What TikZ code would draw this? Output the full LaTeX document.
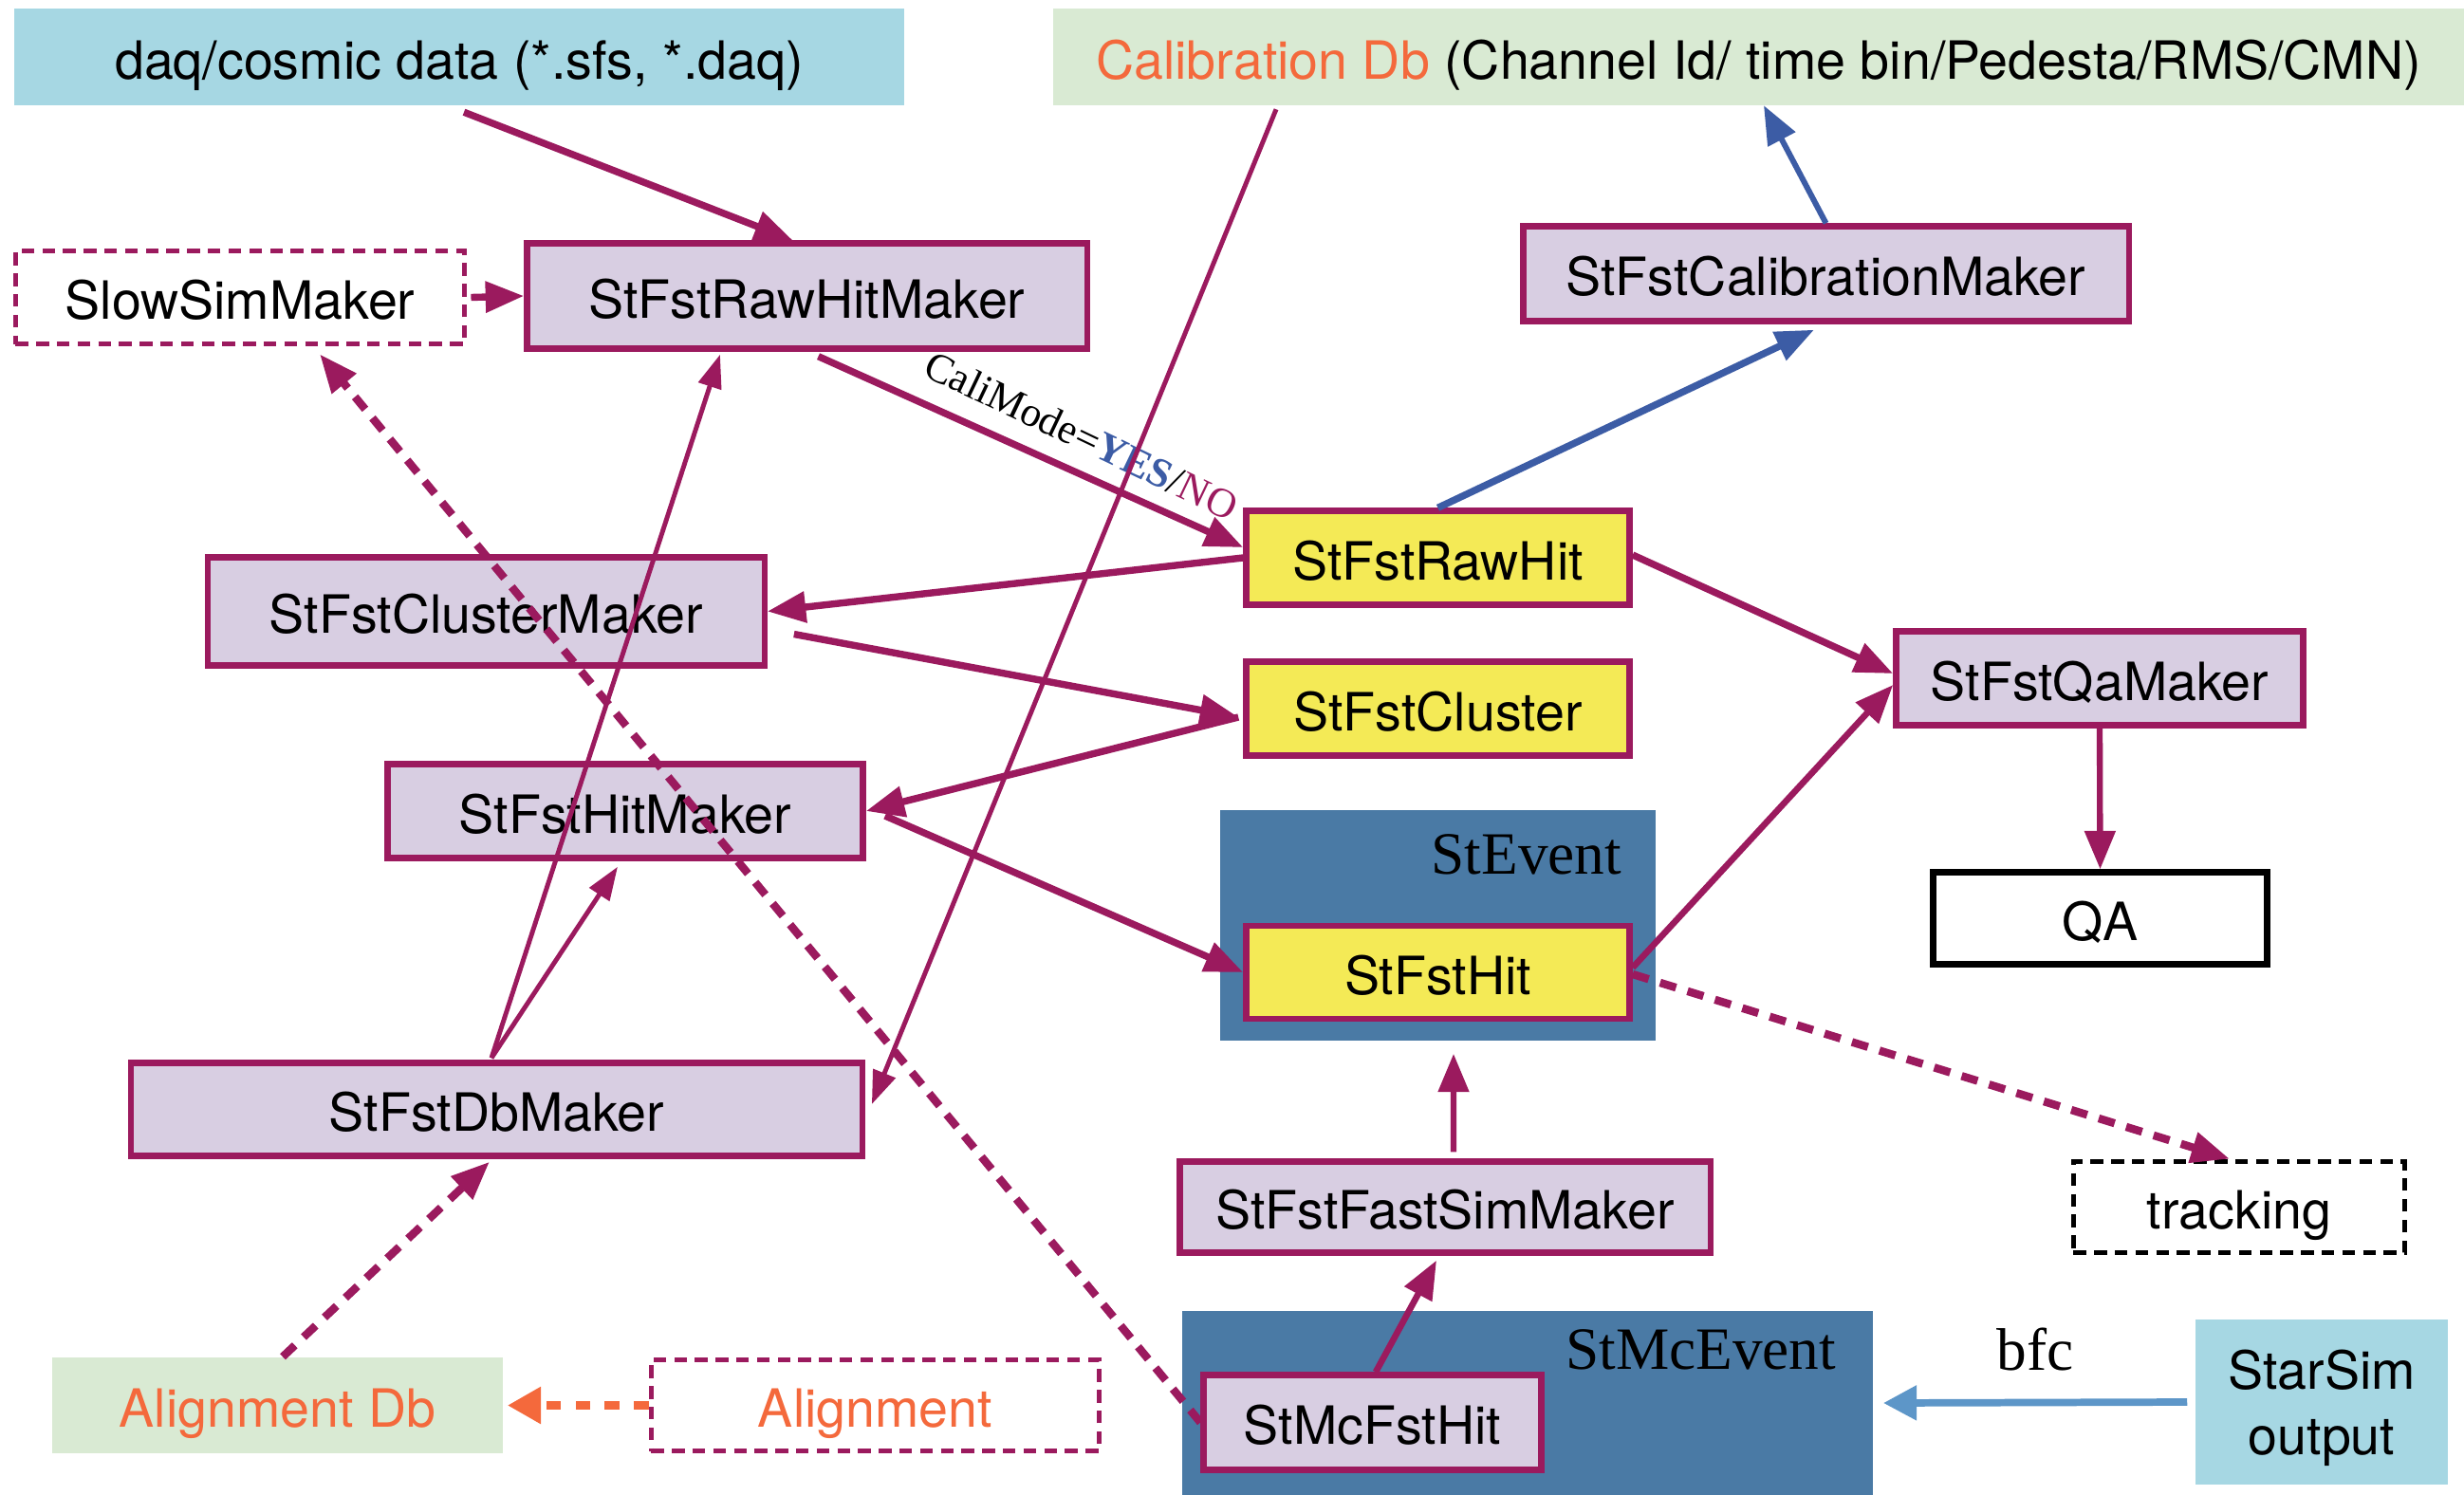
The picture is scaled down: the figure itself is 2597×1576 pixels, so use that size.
\documentclass[tikz,border=0pt]{standalone}
\usepackage{fontspec}
\setmainfont{TeX Gyre Heros}
\newfontfamily\labelserif{Liberation Serif}
\usetikzlibrary{arrows.meta}

\definecolor{mkpurple}{RGB}{155,26,94}
\definecolor{mklav}{RGB}{216,206,226}
\definecolor{hityellow}{RGB}{244,234,86}
\definecolor{evblue}{RGB}{74,122,165}
\definecolor{srcblue}{RGB}{166,215,227}
\definecolor{dbgreen}{RGB}{217,234,211}
\definecolor{dborange}{RGB}{244,105,60}
\definecolor{calblue}{RGB}{60,92,165}
\definecolor{simblue}{RGB}{93,150,200}

\begin{document}
\begin{tikzpicture}[x=0.01cm, y=-0.01cm,
  plainbox/.style={rectangle, inner sep=0pt, align=center,
    font=\fontsize{15.8pt}{19.6pt}\selectfont},
  box/.style={plainbox, text height=13.2pt, text depth=0pt},
  maker/.style={box, draw=mkpurple, line width=1.8pt, fill=mklav},
  hitbox/.style={box, draw=mkpurple, line width=1.8pt, fill=hityellow},
  srcbox/.style={box, fill=srcblue},
  dbbox/.style={box, fill=dbgreen},
  ghost/.style={box, draw=mkpurple, fill=white, line width=1.6pt, dash pattern=on 3.8pt off 2.4pt},
  container/.style={rectangle, inner sep=0pt, fill=evblue},
  evlabel/.style={inner sep=0pt, anchor=north east, font=\labelserif\fontsize{18pt}{20pt}\selectfont},
  flow/.style={draw=mkpurple, line width=2.1pt, -{Triangle[length=11.5pt,width=9pt]}},
  thinflow/.style={draw=mkpurple, line width=1.4pt, -{Triangle[length=10pt,width=7pt]}},
  dflow/.style={draw=mkpurple, line width=2.4pt, dash pattern=on 5pt off 3.6pt, -{Triangle[length=11.5pt,width=9pt]}},
  blueflow/.style={draw=calblue, line width=2.1pt, -{Triangle[length=11.5pt,width=9pt]}},
  orangeflow/.style={draw=dborange, line width=2.8pt, dash pattern=on 4.3pt off 4.5pt, -{Triangle[length=10pt,width=10.5pt]}},
  simflow/.style={draw=simblue, line width=2.2pt, -{Triangle[length=10pt,width=10pt]}}
]
\useasboundingbox (0,0) rectangle (2597,1576);

% event containers
\node[container, minimum width=4.59cm, minimum height=2.43cm] (stevent) at (1515.5,975.5) {};
\node[evlabel] (steventlabel) at ([xshift=-0.36cm,yshift=-0.26cm]stevent.north east) {StEvent};
\node[container, minimum width=7.28cm, minimum height=1.94cm] (stmcevent) at (1610,1479) {};
\node[evlabel] (stmceventlabel) at ([xshift=-0.39cm,yshift=-0.2cm]stmcevent.north east) {StMcEvent};

% inputs and databases
\node[srcbox, minimum width=9.38cm, minimum height=1.01cm] (daq) at (484,60) {daq/cosmic data (*.sfs, *.daq)};
\node[dbbox, minimum width=14.87cm, minimum height=1.01cm] (cal) at (1853.5,60)
  {{\color{dborange}Calibration Db} (Channel Id/ time bin/Pedesta/RMS/CMN)};
\node[plainbox, fill=srcblue, text depth=0pt, minimum width=2.66cm, minimum height=1.74cm] (starsim) at (2447,1478) {StarSim\\output};
\node[dbbox, minimum width=4.75cm, minimum height=1.01cm, text=dborange] (aldb) at (292.5,1481.5) {Alignment Db};
\node[ghost, minimum width=4.72cm, minimum height=0.96cm, text=dborange] (align) at (922.5,1481.5) {Alignment};

% makers
\node[ghost, minimum width=4.73cm, minimum height=0.98cm] (slow) at (253,313.5) {SlowSimMaker};
\node[maker, minimum width=5.9cm, minimum height=1.11cm] (rhm) at (850.5,312) {StFstRawHitMaker};
\node[maker, minimum width=6.38cm, minimum height=1.0cm] (calm) at (1924.5,288.5) {StFstCalibrationMaker};
\node[maker, minimum width=5.86cm, minimum height=1.14cm] (clm) at (512.5,644.5) {StFstClusterMaker};
\node[maker, minimum width=4.29cm, minimum height=0.99cm] (qam) at (2213,715) {StFstQaMaker};
\node[maker, minimum width=5.01cm, minimum height=0.99cm] (hm) at (659,855) {StFstHitMaker};
\node[maker, minimum width=7.70cm, minimum height=0.98cm] (dbm) at (523.5,1169.5) {StFstDbMaker};
\node[maker, minimum width=5.59cm, minimum height=0.96cm] (fsm) at (1523,1272.5) {StFstFastSimMaker};
\node[maker, minimum width=3.56cm, minimum height=1.0cm] (mchit) at (1446.5,1499.5) {StMcFstHit};

% hit collections
\node[hitbox, minimum width=4.04cm, minimum height=0.99cm] (rawhit) at (1515.5,588) {StFstRawHit};
\node[hitbox, minimum width=4.04cm, minimum height=0.99cm] (cluster) at (1515.5,747) {StFstCluster};
\node[hitbox, minimum width=4.04cm, minimum height=0.98cm] (fsthit) at (1515.5,1025) {StFstHit};

% outputs
\node[box, draw=black, fill=white, line width=1.8pt, minimum width=3.52cm, minimum height=0.97cm] (qa) at (2213.5,968) {QA};
\node[ghost, draw=black, minimum width=3.49cm, minimum height=0.96cm] (tracking) at (2360,1272.5) {tracking};

% data flow
\draw[flow] ([xshift=0.05cm,yshift=-0.07cm]daq.south) -- ([xshift=-0.15cm]rhm.north);
\draw[flow] ([xshift=0.04cm]slow.east) -- (rhm.west);
\draw[flow] ([xshift=0.12cm,yshift=-0.05cm]rhm.south) -- ([yshift=0.11cm]rawhit.west);
\node[rotate=-25.5, inner sep=0pt, font=\labelserif\fontsize{12.4pt}{14pt}\selectfont] (calimode) at (1140,459)
  {CaliMode={\bfseries\color{calblue}YES}/{\color{mkpurple}NO}};
\draw[flow] (rawhit.west) -- (clm.east);
\draw[flow] ([xshift=0.28cm,yshift=-0.24cm]clm.east) -- ([xshift=-0.05cm,yshift=-0.09cm]cluster.west);
\draw[flow] ([xshift=-0.05cm,yshift=-0.09cm]cluster.west) -- (hm.east);
\draw[flow] ([xshift=0.2cm,yshift=-0.05cm]hm.east) -- (fsthit.west);
\draw[flow] ([yshift=0.03cm]rawhit.east) -- ([yshift=0.05cm]qam.west);
\draw[flow, line width=1.9pt] ([yshift=0.05cm]fsthit.east) -- ([yshift=-0.07cm]qam.west);
\draw[flow, line width=1.8pt] (qam.south) -- (qa.north);
\draw[dflow] ([yshift=-0.02cm]fsthit.east) -- ([xshift=-0.1cm]tracking.north);

% calibration loop
\draw[blueflow] (rawhit.north) -- ([xshift=-0.125cm,yshift=-0.06cm]calm.south);
\draw[blueflow, line width=1.7pt] (calm.north) -- ([xshift=0.055cm]cal.south);

% database inputs
\draw[thinflow] ([xshift=2.36cm,yshift=-0.04cm]cal.south west) -- ([xshift=0.07cm,yshift=0.055cm]dbm.east);
\draw[thinflow] ([xshift=-0.055cm,yshift=0.02cm]dbm.north) -- ([xshift=-0.915cm,yshift=-0.03cm]rhm.south);
\draw[thinflow] ([xshift=-0.055cm,yshift=0.02cm]dbm.north) -- ([xshift=-0.08cm,yshift=-0.06cm]hm.south);
\draw[dflow] ([xshift=0.055cm]aldb.north) -- ([xshift=-0.075cm,yshift=-0.03cm]dbm.south);
\draw[orangeflow] (align.west) -- ([xshift=0.04cm]aldb.east);

% simulation chain
\draw[dflow, dash pattern=on 4.8pt off 3.4pt] (mchit.west) -- ([xshift=0.84cm,yshift=-0.08cm]slow.south);
\draw[flow, line width=1.9pt] ([xshift=0.035cm]mchit.north) -- ([xshift=-0.09cm,yshift=-0.05cm]fsm.south);
\draw[flow, line width=1.8pt] ([xshift=0.09cm,yshift=0.07cm]fsm.north) -- ([xshift=0.165cm,yshift=-0.13cm]stevent.south);
\draw[simflow] ([xshift=-0.08cm]starsim.west) -- ([xshift=0.1cm]stmcevent.east)
  node[midway, above=0.3cm, inner sep=0pt, font=\labelserif\fontsize{18pt}{20pt}\selectfont] (bfc) {bfc};
\end{tikzpicture}
\end{document}
